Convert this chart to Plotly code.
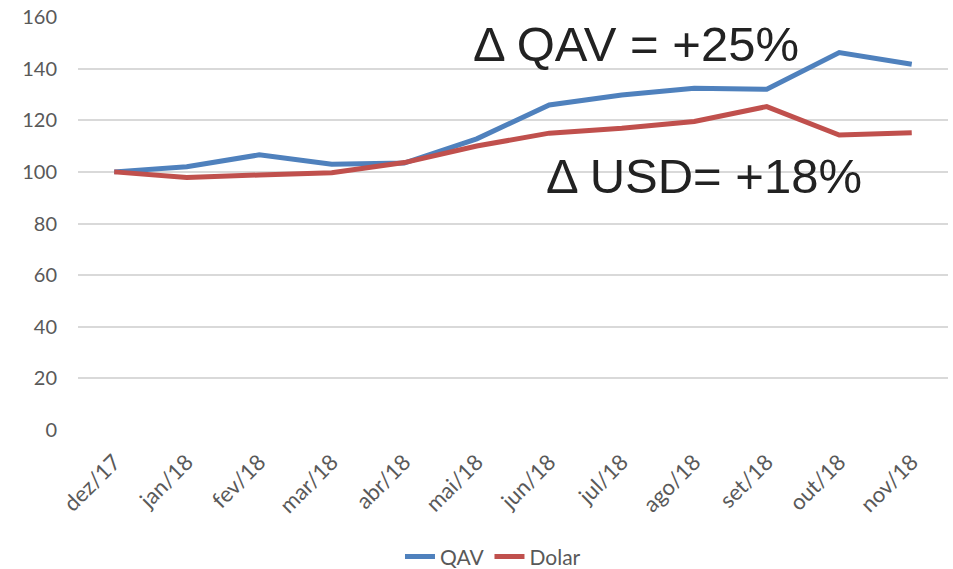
import plotly.graph_objects as go

categories = ["dez/17", "jan/18", "fev/18", "mar/18", "abr/18", "mai/18",
              "jun/18", "jul/18", "ago/18", "set/18", "out/18", "nov/18"]
qav = [100, 102.0, 106.6, 103.0, 103.4, 112.8, 125.9, 129.8, 132.4, 132.0, 146.2, 141.7]
dolar = [100, 97.8, 98.8, 99.7, 103.6, 110.0, 115.0, 116.9, 119.5, 125.3, 114.3, 115.2]
y_ticks = [0, 20, 40, 60, 80, 100, 120, 140, 160]
baseline = 100

fig = go.Figure()
fig.add_trace(go.Scatter(x=categories, y=qav, mode="lines", name="QAV",
                         line=dict(color="#4F81BD", width=5)))
fig.add_trace(go.Scatter(x=categories, y=dolar, mode="lines", name="Dolar",
                         line=dict(color="#C0504D", width=5)))

fig.add_shape(type="line", xref="paper", yref="y", x0=0, x1=1, y0=baseline, y1=baseline,
              line=dict(color="#948A54", width=2), layer="below")

fig.add_annotation(text="Δ QAV = +25%", xref="paper", yref="paper", x=0.641, y=0.935,
                   xanchor="center", yanchor="middle",
                   showarrow=False, font=dict(family="Liberation Sans", size=49, color="#222222"))
fig.add_annotation(text="Δ USD= +18%", xref="paper", yref="paper", x=0.72, y=0.615,
                   xanchor="center", yanchor="middle",
                   showarrow=False, font=dict(family="Liberation Sans", size=49, color="#222222"))

fig.update_layout(
    width=953, height=569,
    margin=dict(l=78, r=5, t=17, b=139, autoexpand=False),
    plot_bgcolor="white", paper_bgcolor="white",
    font=dict(family="Lato", size=20, color="#595959"),
    showlegend=True,
    legend=dict(orientation="h", x=0.477, xanchor="center", y=-0.307, yanchor="middle",
                font=dict(family="Lato", size=21, color="#595959")),
    xaxis=dict(type="category", range=[-0.5, 11.5], showgrid=False, showline=False,
               automargin=False, ticks="", tickangle=-45, ticklabelstandoff=14,
               ticklabeloverflow="allow", tickfont=dict(size=22)),
    yaxis=dict(range=[0, 160], tickmode="array", tickvals=y_ticks,
               showgrid=True, gridcolor="#D9D9D9", gridwidth=1.5,
               automargin=False, zeroline=False, showline=False, ticklabelstandoff=20,
               ticklabeloverflow="allow", tickfont=dict(size=20)),
)

fig.write_html("out.html", config={"displayModeBar": False},
               post_script="document.body.style.margin='0';document.body.style.overflow='hidden';")
